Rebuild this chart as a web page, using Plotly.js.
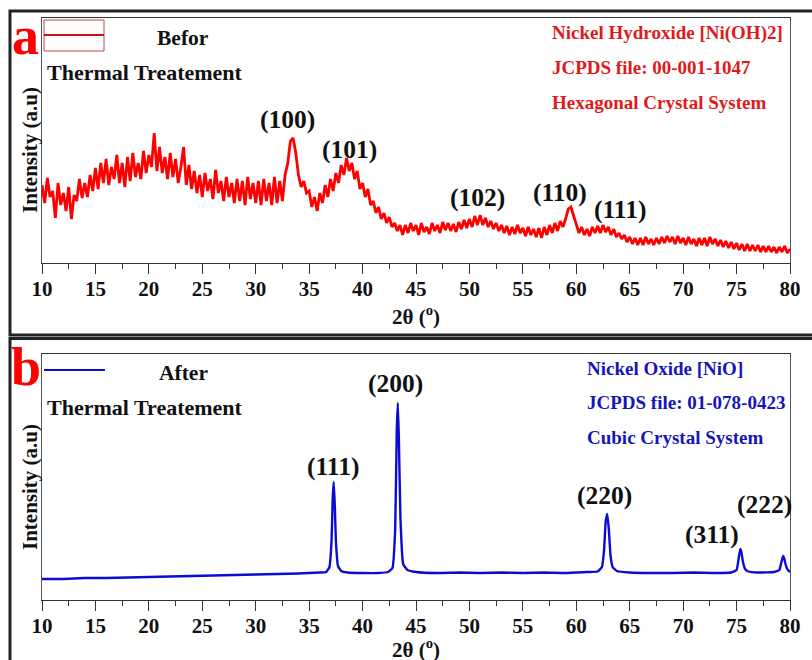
<!DOCTYPE html>
<html>
<head>
<meta charset="utf-8">
<script src="https://cdn.plot.ly/plotly-3.0.1.min.js"></script>
<style>html,body{margin:0;padding:0;background:#fff}#chart{width:812px;height:660px}</style>
</head>
<body>
<div id="chart"></div>
<script>
// ---------- Data ----------
// (a) Ni(OH)2 before thermal treatment: scan from 10 to 80 deg, step 0.25 deg
const scanStartA = 10;
const scanStepA = 0.25;
const intensityA = [
  78, 60, 85, 66,   72, 45, 80, 58,   70, 52, 76, 44,   68, 62, 84, 65,
  80, 66, 88, 72,   95, 74, 100, 80,  104, 78, 96, 84,  108, 80, 100, 76,
  106, 82, 110, 86, 100, 84, 112, 90, 108, 96, 130, 92, 116, 90, 106, 84,
  110, 86, 104, 80, 96, 116, 78, 98,  74, 92, 70, 88,   66, 90, 72, 84,
  64, 93, 70, 82,   62, 86, 66, 80,   60, 84, 62, 82,   58, 86, 64, 80,
  60, 82, 58, 84,   62, 80, 58, 86,   60, 82, 62, 88,   100, 122, 125, 110,
  88, 76, 82, 70,   72, 56, 66, 52,   70, 60, 78, 66,   84, 72, 90, 80,
  98, 88, 105, 92,  100, 84, 92, 74,  80, 66, 74, 58,   62, 50, 56, 44,
  50, 40, 46, 36,   40, 32, 38, 28,   38, 30, 40, 32,   38, 28, 40, 31,
  36, 29, 40, 32,   38, 30, 41, 33,   40, 32, 39, 31,   41, 34, 43, 35,
  44, 36, 47, 38,   48, 38, 45, 36,   42, 34, 40, 32,   38, 30, 37, 28,
  36, 29, 38, 30,   35, 27, 36, 28,   34, 26, 35, 25,   36, 28, 38, 30,
  40, 32, 42, 36,   44, 54, 56, 48,   38, 30, 36, 28,   34, 27, 36, 30,
  37, 30, 38, 31,   36, 28, 34, 26,   30, 24, 28, 21,   26, 19, 25, 18,
  25, 18, 26, 19,   24, 18, 25, 19,   26, 20, 27, 21,   26, 19, 27, 20,
  25, 18, 26, 19,   24, 17, 25, 18,   25, 17, 26, 19,   24, 17, 23, 16,
  22, 15, 21, 14,   20, 13, 19, 12,   19, 12, 18, 12,   18, 11, 17, 11,
  17, 11, 16, 10,   16, 11, 17, 10,   14
];
const twoThetaA = intensityA.map((_, i) => scanStartA + i * scanStepA);

// (b) NiO after thermal treatment
const twoThetaB = [10, 12, 14, 16, 18, 20, 22, 24, 26, 28, 30, 32, 34, 35, 36,
  36.6, 36.9, 37.1, 37.2, 37.3, 37.4, 37.5, 37.7, 38.0, 38.6, 40, 41.5,
  42.4, 42.8, 43.05, 43.2, 43.3, 43.4, 43.55, 43.8, 44.2, 45, 47, 49, 51, 53,
  55, 57, 59, 61, 62, 62.4, 62.6, 62.75, 62.9, 63.05, 63.2, 63.4, 63.8, 65,
  67, 69, 71, 73, 74.5, 75.0, 75.2, 75.35, 75.45, 75.6, 75.8, 76.1, 77, 78.5,
  79.0, 79.2, 79.35, 79.45, 79.6, 79.8, 80];
const intensityB = [21, 21, 22, 22, 22.5, 23, 23.5, 24, 24.5, 25, 25.5, 26, 26.5, 27, 27.5,
  28, 33, 60, 100, 118, 95, 60, 34, 29, 27.5, 27, 27,
  28, 32, 70, 170, 197, 160, 80, 36, 30, 28, 27, 27.5, 27, 27.5,
  27, 27.5, 27, 28, 28.5, 33, 50, 78, 86, 70, 45, 33, 29, 27.5,
  27, 27, 27.5, 27, 27.5, 30, 42, 51, 48, 38, 31, 28.5, 27.5, 28,
  30, 38, 44, 42, 35, 30, 28];

const xTickVals = [10, 15, 20, 25, 30, 35, 40, 45, 50, 55, 60, 65, 70, 75, 80];
const peaksA = ['(100)', '(101)', '(102)', '(110)', '(111)'];
const peaksB = ['(111)', '(200)', '(220)', '(311)', '(222)'];
const infoA = ['Nickel Hydroxide [Ni(OH)2]', 'JCPDS file: 00-001-1047', 'Hexagonal Crystal System'];
const infoB = ['Nickel Oxide [NiO]', 'JCPDS file: 01-078-0423', 'Cubic Crystal System'];

// ---------- Layout helpers ----------
const W = 812, H = 660;
const px = x => x / W;
const py = y => 1 - y / H;
const SERIF = '"Liberation Serif", "Times New Roman", serif';
const RED = '#ff0000', TXTRED = '#e01a1a', BLUE = '#0b0bd6', TXTBLUE = '#1616b8';

function xAxis(domainAnchor) {
  return {
    domain: [px(42), px(790)], range: [10, 80], anchor: domainAnchor,
    showline: true, mirror: true, linecolor: '#333', linewidth: 1,
    showgrid: false, zeroline: false,
    tickmode: 'array', tickvals: xTickVals, ticktext: xTickVals.map(v => '<b>' + v + '</b>'),
    ticks: 'outside', ticklen: 10, tickwidth: 1, tickcolor: '#333',
    minor: {ticks: 'outside', ticklen: 5, tickwidth: 1, tickcolor: '#333', dtick: 2.5, tick0: 12.5, showgrid: false},
    tickfont: {family: SERIF, size: 21, color: '#111'},
    ticklabelstandoff: -3
  };
}
function yAxis(dom, rng, anchor) {
  return {
    domain: dom, range: rng, anchor: anchor,
    showline: true, mirror: true, linecolor: '#555', linewidth: 1,
    showgrid: false, zeroline: false, showticklabels: false, ticks: ''
  };
}

const traces = [
  {x: twoThetaA, y: intensityA, xaxis: 'x', yaxis: 'y', type: 'scatter', mode: 'lines',
   line: {color: RED, width: 2.8}, hoverinfo: 'skip'},
  {x: twoThetaB, y: intensityB, xaxis: 'x2', yaxis: 'y2', type: 'scatter', mode: 'lines',
   line: {color: BLUE, width: 2.4, shape: 'spline', smoothing: 0.4}, hoverinfo: 'skip'}
];

function txt(text, x, y, size, color, extra) {
  return Object.assign({text: text, xref: 'paper', yref: 'paper', x: px(x), y: py(y),
    showarrow: false, font: {family: SERIF, size: size, color: color},
    xanchor: 'center', yanchor: 'middle'}, extra || {});
}

const annA = [[287, 119], [349, 149], [477, 197], [560, 192], [620, 210]];
const annB = [[333, 467], [395, 383], [604, 496], [712, 534], [764, 504]];

const annotations = [
  txt('<b>a</b>', 25, 36, 54, RED),
  txt('<b>b</b>', 26, 367, 54, RED),
  txt('<b>Befor</b>', 183, 38, 21.5, '#111'),
  txt('<b>Thermal Treatement</b>', 45, 72, 22, '#111', {xanchor: 'left'}),
  txt('<b>After</b>', 183, 373, 21.5, '#111'),
  txt('<b>Thermal Treatement</b>', 45, 407, 22, '#111', {xanchor: 'left'}),
  txt('<b>2θ (<sup>o</sup>)</b>', 416, 315, 21, '#111'),
  txt('<b>2θ (<sup>o</sup>)</b>', 416, 648, 21, '#111'),
  txt('<b>Intensity (a.u)</b>', 30, 150, 21, '#111', {textangle: -90}),
  txt('<b>Intensity (a.u)</b>', 30, 487, 21, '#111', {textangle: -90})
];
infoA.forEach((t, i) => annotations.push(txt('<b>' + t + '</b>', 550, 33 + i * 34.5, 19, TXTRED, {xanchor: 'left'})));
infoB.forEach((t, i) => annotations.push(txt('<b>' + t + '</b>', 585, 368 + i * 34.5, 19, TXTBLUE, {xanchor: 'left'})));
peaksA.forEach((t, i) => annotations.push(txt('<b>' + t + '</b>', annA[i][0], annA[i][1], 25.5, '#111')));
peaksB.forEach((t, i) => annotations.push(txt('<b>' + t + '</b>', annB[i][0], annB[i][1], 25.5, '#111')));

const shapes = [
  {type: 'rect', xref: 'paper', yref: 'paper', x0: px(10), x1: px(840), y0: py(11), y1: py(335),
   line: {color: '#222', width: 3}},
  {type: 'rect', xref: 'paper', yref: 'paper', x0: px(10), x1: px(840), y0: py(338.5), y1: py(720),
   line: {color: '#222', width: 3}},
  {type: 'rect', xref: 'paper', yref: 'paper', x0: px(44), x1: px(104), y0: py(20), y1: py(51),
   line: {color: '#b84a4a', width: 1}},
  {type: 'line', xref: 'paper', yref: 'paper', x0: px(44), x1: px(104), y0: py(35), y1: py(35),
   line: {color: '#cc1010', width: 2}},
  {type: 'line', xref: 'paper', yref: 'paper', x0: px(44), x1: px(105), y0: py(370), y1: py(370),
   line: {color: BLUE, width: 2}}
];

const layout = {
  width: W, height: H, margin: {l: 0, r: 0, t: 0, b: 0},
  paper_bgcolor: '#fff', plot_bgcolor: '#fff', showlegend: false,
  xaxis: xAxis('y'),
  yaxis: yAxis([py(263), py(18)], [0, 245], 'x'),
  xaxis2: xAxis('y2'),
  yaxis2: yAxis([py(600), py(354)], [0, 246], 'x2'),
  annotations: annotations, shapes: shapes
};

Plotly.newPlot('chart', traces, layout, {staticPlot: true, displayModeBar: false});
</script>
</body>
</html>
